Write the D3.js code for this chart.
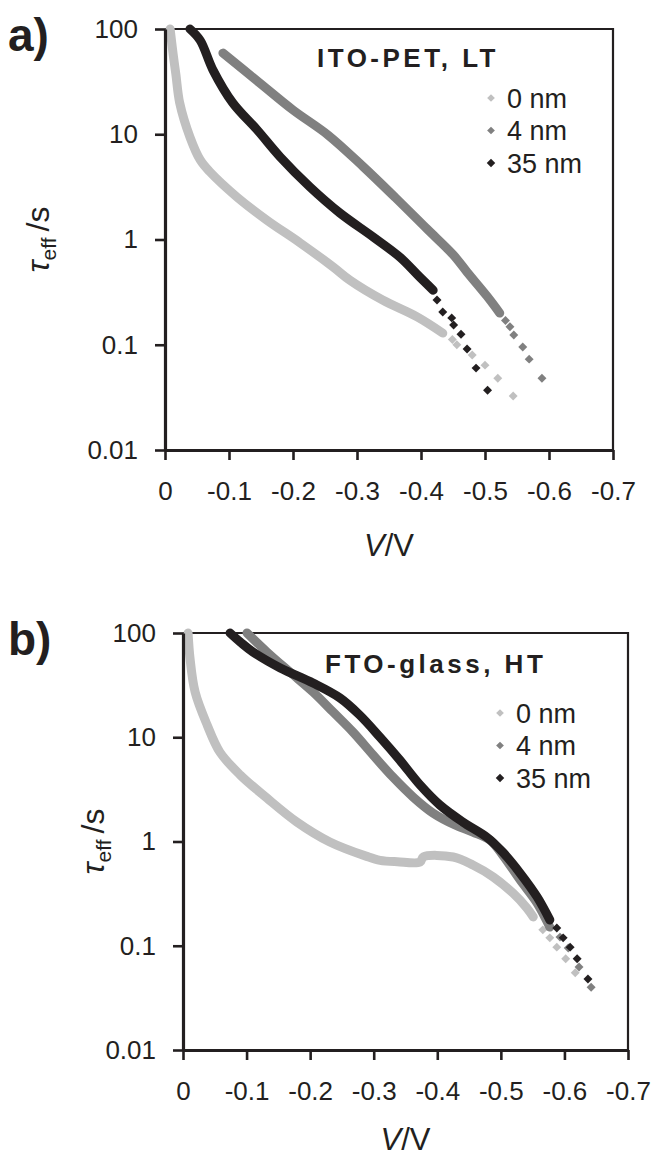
<!DOCTYPE html>
<html>
<head>
<meta charset="utf-8">
<script src="https://cdn.jsdelivr.net/npm/d3@7"></script>
<style>
  body { margin: 0; background: #fff; }
  svg { display: block; }
  text { font-family: "Liberation Sans", Arial, Helvetica, sans-serif; fill: #231f20; }
</style>
</head>
<body>
<svg id="chart" width="651" height="1159"></svg>
<script>
// tick values
const xTicks = [0, -0.1, -0.2, -0.3, -0.4, -0.5, -0.6, -0.7];
const yTicks = [100, 10, 1, 0.1, 0.01];
const seriesNames = ['0 nm', '4 nm', '35 nm'];

// [V, tau_eff]; "band" = densely packed markers, "dots" = separate markers
// panel a) ITO-PET, LT
const a0Band = [[-0.008, 100], [-0.0125, 59], [-0.017, 37], [-0.023, 19.8], [-0.039, 9.4], [-0.055, 5.7],
  [-0.07, 4.4], [-0.1125, 2.53], [-0.159, 1.53], [-0.211, 0.93], [-0.2625, 0.55], [-0.289, 0.41],
  [-0.34, 0.266], [-0.394, 0.184], [-0.434, 0.129]];
const a0Dots = [[-0.449, 0.112], [-0.456, 0.10], [-0.48, 0.080], [-0.5, 0.064], [-0.52, 0.048], [-0.544, 0.0326]];
const a4Band = [[-0.0905, 59], [-0.148, 30.7], [-0.2, 17.0], [-0.255, 9.8], [-0.31, 4.9], [-0.36, 2.5],
  [-0.41, 1.25], [-0.45, 0.72], [-0.472, 0.49], [-0.503, 0.29], [-0.523, 0.20]];
const a4Dots = [[-0.532, 0.17], [-0.539, 0.148], [-0.545, 0.124], [-0.559, 0.095], [-0.569, 0.073], [-0.589, 0.048]];
const a35Band = [[-0.039, 100], [-0.055, 78], [-0.075, 40.7], [-0.106, 19.8], [-0.144, 11.0], [-0.18, 6.08],
  [-0.2265, 3.15], [-0.273, 1.79], [-0.325, 1.06], [-0.367, 0.68], [-0.398, 0.44], [-0.419, 0.33]];
const a35Dots = [[-0.425, 0.266], [-0.434, 0.205], [-0.448, 0.18], [-0.451, 0.154], [-0.4625, 0.126],
  [-0.472, 0.091], [-0.486, 0.060], [-0.504, 0.037]];

// panel b) FTO-glass, HT
const b0Band = [[-0.008, 100], [-0.011, 57.5], [-0.019, 27.2], [-0.038, 13.1], [-0.058, 7.2], [-0.09, 4.35],
  [-0.132, 2.61], [-0.179, 1.54], [-0.231, 0.99], [-0.289, 0.72], [-0.31, 0.66], [-0.337, 0.64],
  [-0.373, 0.635], [-0.378, 0.71], [-0.425, 0.71], [-0.456, 0.595], [-0.488, 0.457], [-0.519, 0.32],
  [-0.541, 0.23], [-0.551, 0.189]];
const b0Dots = [[-0.566, 0.142], [-0.577, 0.119], [-0.588, 0.097], [-0.602, 0.075], [-0.617, 0.055]];
const b4Band = [[-0.1007, 100], [-0.132, 65.8], [-0.168, 42.3], [-0.2045, 27.2], [-0.236, 17.5],
  [-0.2675, 11.2], [-0.299, 6.76], [-0.33, 4.16], [-0.362, 2.67], [-0.393, 1.88], [-0.428, 1.44],
  [-0.456, 1.23], [-0.483, 1.03], [-0.503, 0.74], [-0.53, 0.43], [-0.557, 0.257], [-0.577, 0.151]];
const b4Dots = [[-0.593, 0.121], [-0.606, 0.095], [-0.623, 0.0625], [-0.642, 0.040]];
const b35Band = [[-0.074, 100], [-0.09, 82], [-0.11, 65.8], [-0.153, 46.2], [-0.2045, 33.1], [-0.247, 23.8],
  [-0.278, 16.3], [-0.31, 10.0], [-0.341, 6.05], [-0.373, 3.48], [-0.404, 2.24], [-0.44, 1.54],
  [-0.478, 1.10], [-0.503, 0.79], [-0.53, 0.50], [-0.557, 0.294], [-0.577, 0.177]];
const b35Dots = [[-0.588, 0.148], [-0.598, 0.119], [-0.609, 0.097], [-0.62, 0.075], [-0.637, 0.048]];

const colors = ['#c0c0c0', '#808080', '#231f20'];
const ink = '#231f20';

const svg = d3.select('#chart');

function drawPanel(p) {
  const x = d3.scaleLinear().domain([0, -0.7]).range([p.left, p.right]);
  const y = d3.scaleLog().domain([0.01, 100]).range([p.bottom, p.top]);
  const g = svg.append('g');

  // top and right border (thinner)
  g.append('path')
    .attr('d', `M${p.left},${p.top}H${p.right}V${p.bottom}`)
    .attr('fill', 'none').attr('stroke', ink).attr('stroke-width', 2.2);

  const line = d3.line().x(d => x(d[0])).y(d => y(d[1])).curve(d3.curveCatmullRom);
  const diamond = d3.symbol(d3.symbolSquare, 40);

  p.series.forEach((s, i) => {
    g.append('path')
      .attr('d', line(s.band))
      .attr('fill', 'none')
      .attr('stroke', colors[i])
      .attr('stroke-width', 9)
      .attr('stroke-linecap', 'round')
      .attr('stroke-linejoin', 'round');
    g.selectAll(null).data(s.dots).enter().append('path')
      .attr('d', diamond)
      .attr('transform', d => `translate(${x(d[0])},${y(d[1])}) rotate(45)`)
      .attr('fill', colors[i]);
  });

  // axes
  const yAxis = g.append('g')
    .attr('transform', `translate(${p.left},0)`)
    .call(d3.axisLeft(y).tickValues(yTicks).tickFormat(d => String(d))
      .tickSize(10).tickSizeOuter(0).tickPadding(17));
  const xAxis = g.append('g')
    .attr('transform', `translate(0,${p.bottom})`)
    .call(d3.axisBottom(x).tickValues(xTicks).tickFormat(d => String(d))
      .tickSize(10).tickSizeOuter(0).tickPadding(22));
  [yAxis, xAxis].forEach(a => {
    a.select('.domain').attr('stroke', ink).attr('stroke-width', 3.2);
    a.selectAll('.tick line').attr('stroke', ink).attr('stroke-width', 2.6);
    a.selectAll('.tick text').attr('font-size', 26).attr('fill', ink)
      .style('font-family', '"Liberation Sans", Arial, sans-serif');
  });
  xAxis.selectAll('.tick text').attr('dy', '0.71em');

  // panel letter
  g.append('text').attr('x', 8).attr('y', p.letterY)
    .attr('font-size', 46).attr('font-weight', 'bold').text(p.letter);

  // panel title
  g.append('text').attr('x', p.titleX).attr('y', p.titleY)
    .attr('font-size', 26).attr('font-weight', 'bold').attr('letter-spacing', 3.5)
    .text(p.title);

  // legend
  const lg = g.append('g');
  seriesNames.forEach((name, i) => {
    const ly = p.legendY + i * 32.5;
    lg.append('path')
      .attr('d', d3.symbol(d3.symbolSquare, i === 2 ? 36 : 30)())
      .attr('transform', `translate(${p.legendX},${ly}) rotate(45)`)
      .attr('fill', colors[i]);
    lg.append('text').attr('x', p.legendX + 16).attr('y', ly + 9.5)
      .attr('font-size', 27).text(name);
  });

  // axis titles
  const yt = g.append('text')
    .attr('transform', `translate(${p.yTitleX},${(p.top + p.bottom) / 2}) rotate(-90)`)
    .attr('text-anchor', 'middle').attr('font-size', 32);
  yt.append('tspan').attr('font-style', 'italic').text('τ');
  yt.append('tspan').attr('font-size', 21).attr('dy', 7).text('eff');
  yt.append('tspan').attr('dy', -7).attr('dx', 6).text('/s');

  const xt = g.append('text')
    .attr('x', (p.left + p.right) / 2).attr('y', p.xTitleY)
    .attr('text-anchor', 'middle').attr('font-size', 31);
  xt.append('tspan').attr('font-style', 'italic').text('V');
  xt.append('tspan').text('/V');
}

drawPanel({
  left: 165, right: 613, top: 29, bottom: 450,
  letter: 'a)', letterY: 51,
  title: 'ITO-PET, LT', titleX: 317, titleY: 67,
  legendX: 491, legendY: 98,
  yTitleX: 49, xTitleY: 556,
  series: [{ band: a0Band, dots: a0Dots }, { band: a4Band, dots: a4Dots }, { band: a35Band, dots: a35Dots }]
});

drawPanel({
  left: 183, right: 628, top: 633, bottom: 1050,
  letter: 'b)', letterY: 655,
  title: 'FTO-glass, HT', titleX: 325, titleY: 673,
  legendX: 500, legendY: 713,
  yTitleX: 104, xTitleY: 1150,
  series: [{ band: b0Band, dots: b0Dots }, { band: b4Band, dots: b4Dots }, { band: b35Band, dots: b35Dots }]
});
</script>
</body>
</html>
